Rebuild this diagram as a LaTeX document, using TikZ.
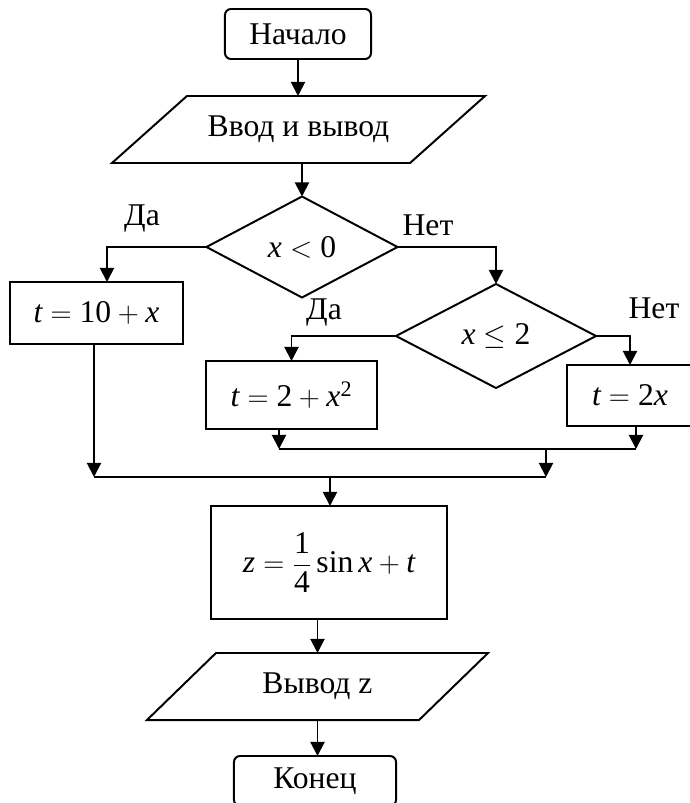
\documentclass[tikz,border=0pt]{standalone}
\usepackage{amsmath}
\usepackage{fontspec}
\setmainfont{Liberation Serif}
\usetikzlibrary{calc, arrows.meta, shapes.geometric}

\begin{document}
\begin{tikzpicture}[
  x=0.025cm, y=-0.025cm, line width=1.4pt,
  every node/.style={font=\fontsize{22.5}{27}\selectfont, inner sep=0pt, outer sep=0pt},
  terminal/.style={draw, rounded corners=0.15cm, minimum width=#1, minimum height=1.25cm},
  process/.style 2 args={draw, minimum width=#1, minimum height=#2},
  decision/.style 2 args={draw, diamond, minimum width=#1, minimum height=#2},
  band/.style 2 args={minimum width=#1, minimum height=#2},
  arr/.style={-{Triangle[length=10pt, width=10pt]}},
]
  \useasboundingbox (0,0) rectangle (690,803);

  % blocks
  \node[terminal=3.65cm]            (start) at (298,34)      {Начало};
  \node[band={7.45cm}{1.675cm}]     (in1)   at (298.5,129.5) {Ввод и вывод};
  \node[decision={4.775cm}{2.525cm}] (d1)   at (302,247)     {$\textit{x} < \textup{0}$};
  \node[process={4.325cm}{1.55cm}]  (box1)  at (96.5,313)    {$\textit{t} = \textup{10} + \textit{x}$};
  \node[decision={5cm}{2.6cm}]      (d2)    at (496,336)     {$\textit{x} \leq \textup{2}$};
  \node[process={4.275cm}{1.7cm}]   (box2)  at (291.5,395)   {$\textit{t} = \textup{2} + \textit{x}^{\textup{2}}$};
  \node[process={3.15cm}{1.525cm}]  (box3)  at (630,395.5)   {$\textit{t} = \textup{2}\textit{x}$};
  \node[process={5.9cm}{2.825cm}]   (box4)  at (329,562.5)   {$\textit{z} = \dfrac{\textup{1}}{\textup{4}}\sin \textit{x} + \textit{t}$};
  \node[band={6.8cm}{1.675cm}]      (out)   at (317.5,686.5) {Вывод z};
  \node[terminal=4.05cm]            (end)   at (315,781)     {Конец};

  \foreach \n/\s in {in1/37.5, out/34.5}
    \draw ($(\n.north west)+(\s,0)$) -- ($(\n.north east)+(\s,0)$)
       -- ($(\n.south east)-(\s,0)$) -- ($(\n.south west)-(\s,0)$) -- cycle;

  % branch points
  \coordinate (yes1) at (107,247);
  \coordinate (j2a) at (279,449);
  \coordinate (j2b) at (636,449);
  \coordinate (j1a) at (94,477);
  \coordinate (j1b) at (546,477);
  \coordinate (j1m) at (330,477);

  \draw[arr] (start.south) -- (start.south |- in1.north);
  \draw[arr] (d1.north |- in1.south) -- (d1.north);
  \draw[arr] (d1.west) -- (yes1) -- (yes1 |- box1.north);
  \draw[arr] (d1.east) -| (d2.north);
  \draw[arr] (d2.west) -| (box2.north);
  \draw[arr] (d2.east) -| (box3.north);

  \draw[arr] (j2a |- box2.south) -- (j2a);
  \draw[arr] (j2b |- box3.south) -- (j2b);
  \draw (j2a) -- (j2b);
  \draw[arr] (j1b |- j2a) -- (j1b);
  \draw[arr] (j1a |- box1.south) -- (j1a);
  \draw (j1a) -- (j1b);
  \draw[arr] (j1m) -- (j1m |- box4.north);

  \draw[arr] (box4.south -| out.north) -- (out.north);
  \draw[arr] (out.south) -- (out.south |- end.north);

  \node (yes1lbl) at (142,219) {Да};
  \node (no1lbl)  at (428,225) {Нет};
  \node (yes2lbl) at (324,313) {Да};
  \node (no2lbl)  at (654,308) {Нет};
\end{tikzpicture}
\end{document}
